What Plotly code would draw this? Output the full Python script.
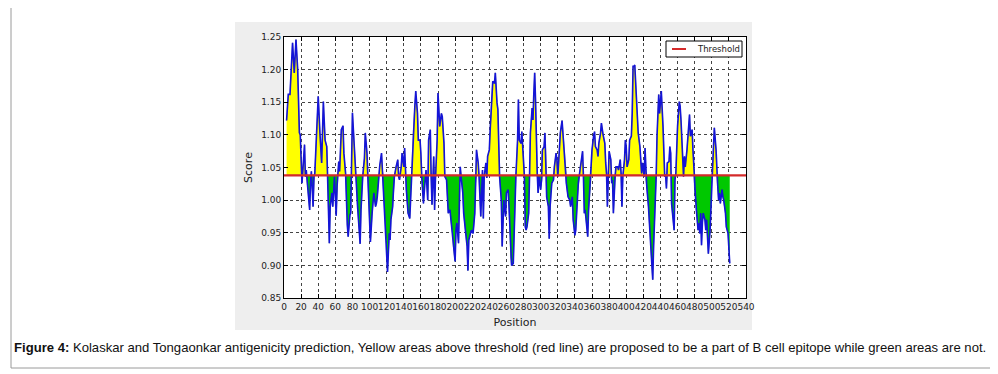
import numpy as np
import plotly.graph_objects as go

# ---- data ----
position = [3, 5, 7, 10, 12, 14, 16, 18, 19, 21, 24, 25, 26, 28, 30, 31, 32, 34, 35, 36,
            38, 40, 42, 44, 46, 48, 50, 51, 53, 54, 56, 57, 59, 61, 62, 64, 65, 67, 69, 70,
            72, 74, 75, 77, 78, 80, 81, 82, 84, 86, 89, 90, 92, 94, 95, 97, 98, 99, 101, 103,
            105, 107, 108, 109, 111, 112, 114, 115, 116, 118, 120, 121, 123, 124, 125, 127, 128, 129, 131, 133,
            134, 135, 137, 138, 140, 141, 143, 145, 147, 149, 151, 153, 154, 156, 157, 159, 160, 161, 163, 164,
            165, 166, 168, 169, 171, 172, 173, 175, 176, 177, 179, 180, 182, 184, 185, 187, 188, 190, 192, 194,
            195, 197, 198, 200, 201, 202, 204, 205, 206, 207, 209, 210, 212, 214, 215, 216, 218, 219, 221, 223,
            224, 225, 227, 228, 230, 231, 232, 233, 234, 236, 237, 238, 240, 241, 243, 244, 246, 247, 249, 250,
            251, 252, 254, 255, 257, 259, 260, 262, 263, 265, 266, 268, 269, 270, 271, 273, 274, 275, 277, 278,
            280, 281, 282, 283, 284, 286, 287, 288, 290, 291, 292, 293, 294, 295, 296, 297, 298, 300, 301, 302,
            304, 305, 306, 307, 309, 310, 311, 312, 313, 315, 316, 318, 319, 320, 321, 322, 323, 325, 326, 328,
            329, 330, 332, 334, 335, 337, 338, 340, 341, 343, 344, 346, 348, 349, 350, 351, 352, 354, 355, 356,
            358, 359, 360, 362, 363, 364, 366, 367, 368, 370, 371, 373, 375, 376, 377, 378, 379, 380, 382, 383,
            384, 385, 387, 388, 390, 391, 393, 394, 395, 396, 398, 399, 400, 401, 403, 404, 406, 407, 408, 409,
            410, 411, 412, 413, 414, 416, 417, 418, 419, 421, 422, 423, 424, 426, 427, 429, 430, 431, 432, 434,
            435, 436, 437, 438, 439, 440, 441, 443, 444, 445, 446, 447, 448, 450, 451, 452, 453, 454, 456, 457,
            458, 459, 460, 462, 463, 464, 466, 467, 468, 469, 471, 472, 473, 474, 475, 477, 478, 479, 480, 481,
            482, 484, 485, 486, 487, 488, 489, 490, 492, 493, 494, 495, 496, 498, 499, 500, 501, 502, 503, 505,
            506, 507, 508, 509, 510, 512, 513, 514, 516, 517, 519, 520, 521]

score = [1.122, 1.162, 1.162, 1.241, 1.195, 1.246, 1.200, 1.103, 1.100, 1.026, 1.085, 1.036, 1.046, 1.011, 0.985, 1.026, 1.044, 0.990, 1.036, 1.041,
         1.098, 1.159, 1.103, 1.057, 1.151, 1.092, 1.082, 1.036, 0.934, 0.990, 1.011, 0.990, 1.036, 0.976, 1.021, 1.059, 1.044, 1.108, 1.114, 1.072,
         1.041, 0.962, 0.944, 0.977, 0.980, 1.134, 1.108, 1.103, 1.041, 0.990, 0.933, 0.985, 1.036, 1.064, 1.103, 1.072, 1.036, 1.000, 0.936, 0.980,
         1.011, 0.990, 0.995, 1.005, 1.041, 1.054, 1.072, 1.046, 1.021, 0.980, 0.929, 0.890, 0.949, 0.939, 0.970, 0.990, 1.016, 1.036, 1.051, 1.062,
         1.036, 1.031, 1.051, 1.072, 1.051, 1.080, 1.016, 0.980, 0.972, 1.036, 1.103, 1.146, 1.167, 1.133, 1.092, 1.092, 1.072, 1.036, 0.995, 1.021,
         1.031, 1.046, 1.000, 1.092, 1.108, 1.036, 0.993, 1.067, 0.985, 1.031, 1.092, 1.164, 1.113, 1.133, 1.128, 1.087, 1.036, 1.031, 0.980, 0.985,
         0.970, 0.949, 0.929, 0.906, 0.954, 0.965, 0.934, 1.036, 1.051, 1.036, 1.011, 0.980, 0.959, 0.929, 0.892, 0.939, 0.949, 0.954, 0.949, 0.980,
         1.026, 1.077, 1.057, 1.036, 0.975, 1.016, 1.046, 0.972, 1.036, 1.057, 1.034, 1.067, 1.077, 1.108, 1.154, 1.182, 1.179, 1.195, 1.149, 1.139,
         1.087, 1.036, 1.000, 0.929, 1.000, 0.975, 1.011, 1.016, 0.990, 0.913, 0.900, 0.903, 0.949, 0.970, 1.036, 1.092, 1.154, 1.092, 1.087, 1.105,
         1.057, 1.036, 0.959, 0.954, 0.959, 0.980, 1.036, 1.103, 1.141, 1.123, 1.164, 1.195, 1.154, 1.082, 1.041, 1.011, 1.036, 1.016, 1.031, 1.077,
         1.082, 1.103, 1.067, 1.005, 0.990, 0.941, 0.990, 1.011, 1.026, 1.031, 1.051, 1.072, 1.062, 1.036, 1.057, 1.087, 1.103, 1.122, 1.103, 1.077,
         1.046, 1.026, 1.005, 1.000, 0.990, 1.005, 0.970, 0.946, 0.954, 1.005, 1.026, 1.046, 1.072, 1.075, 1.036, 0.980, 0.985, 0.959, 0.944, 0.985,
         1.031, 1.036, 1.077, 1.100, 1.105, 1.082, 1.077, 1.067, 1.087, 1.103, 1.118, 1.100, 1.087, 1.057, 1.041, 0.990, 1.036, 1.075, 1.062, 1.026,
         1.031, 0.980, 1.036, 1.051, 1.051, 1.046, 1.062, 1.041, 0.990, 1.036, 1.062, 1.092, 1.082, 1.051, 1.062, 1.092, 1.098, 1.133, 1.205, 1.205,
         1.207, 1.179, 1.149, 1.113, 1.103, 1.082, 1.062, 1.041, 1.057, 1.036, 1.080, 1.031, 1.021, 0.990, 0.970, 0.929, 0.898, 0.878, 0.929, 0.985,
         1.036, 1.098, 1.139, 1.162, 1.133, 1.154, 1.167, 1.113, 1.062, 1.036, 1.039, 1.018, 1.057, 1.059, 1.082, 1.072, 0.995, 0.980, 0.954, 1.031,
         1.041, 1.077, 1.113, 1.151, 1.144, 1.123, 1.077, 1.036, 1.067, 1.051, 1.077, 1.100, 1.113, 1.131, 1.098, 1.108, 1.077, 1.046, 1.011, 1.005,
         0.985, 0.954, 0.965, 0.949, 0.980, 0.931, 0.965, 0.980, 0.970, 0.954, 0.970, 0.934, 0.918, 0.954, 0.995, 1.036, 1.051, 1.082, 1.111, 1.077,
         1.036, 1.021, 1.000, 1.011, 0.995, 1.016, 1.005, 1.000, 0.980, 0.959, 0.949, 0.929, 0.903]

threshold = 1.038
x_ticks = list(range(0, 541, 20))
y_ticks = [0.85, 0.90, 0.95, 1.00, 1.05, 1.10, 1.15, 1.20, 1.25]
legend_label = "Threshold"
caption_bold = "Figure 4:"
caption_text = (" Kolaskar and Tongaonkar antigenicity prediction, Yellow areas above threshold (red line) "
                "are proposed to be a part of B cell epitope while green areas are not.")

# ---- split the curve at threshold crossings for the two fills ----
x = np.array(position, dtype=float)
y = np.array(score, dtype=float)
xs, ys = [x[0]], [y[0]]
for i in range(len(x) - 1):
    a, b = y[i] - threshold, y[i + 1] - threshold
    if a * b < 0:
        f = a / (a - b)
        xs.append(x[i] + f * (x[i + 1] - x[i]))
        ys.append(threshold)
    xs.append(x[i + 1])
    ys.append(y[i + 1])
xs = np.array(xs)
ys = np.array(ys)
base = np.full_like(xs, threshold)
upper = np.maximum(ys, threshold)
lower = np.minimum(ys, threshold)

FONT = "DejaVu Sans"
RED = "#d42a2a"
fig = go.Figure()
fig.add_trace(go.Scatter(x=xs, y=base, mode="lines", line=dict(width=0), showlegend=False, hoverinfo="skip"))
fig.add_trace(go.Scatter(x=xs, y=upper, mode="lines", fill="tonexty", fillcolor="#ffff00",
                         line=dict(width=0.6, color="#7a7a30"), showlegend=False, hoverinfo="skip"))
fig.add_trace(go.Scatter(x=xs, y=base, mode="lines", line=dict(width=0), showlegend=False, hoverinfo="skip"))
fig.add_trace(go.Scatter(x=xs, y=lower, mode="lines", fill="tonexty", fillcolor="#00c800",
                         line=dict(width=0.6, color="#2a6a2a"), showlegend=False, hoverinfo="skip"))
fig.add_trace(go.Scatter(x=x, y=y, mode="lines", line=dict(color="#1414d8", width=1.6), showlegend=False))
fig.add_trace(go.Scatter(x=[0, 540], y=[threshold, threshold], mode="lines",
                         line=dict(color=RED, width=2.2), name=legend_label, showlegend=False))

# page body has an 8px margin, so the figure is laid out 8px smaller/shifted
OFF = 8
W, H = 998 - OFF, 374 - OFF
# plot area in reference-picture pixels
L, R, T, B = 284, 746, 37, 298


def px_x(p):
    return (p - L) / (R - L)


def px_y(p):
    return (B - p) / (B - T)


shapes = [
    # gray figure panel
    dict(type="rect", xref="paper", yref="paper", layer="below",
         x0=px_x(235), x1=px_x(752), y0=px_y(330), y1=px_y(22),
         fillcolor="#eeeeee", line=dict(width=0)),
    dict(type="rect", xref="paper", yref="paper", layer="below",
         x0=0, x1=1, y0=0, y1=1, fillcolor="white", line=dict(width=0)),
    # outer border
    dict(type="rect", xref="paper", yref="paper", layer="below",
         x0=px_x(11), x1=px_x(991), y0=px_y(368), y1=px_y(4),
         fillcolor="rgba(0,0,0,0)", line=dict(width=1, color="#9a9a9a")),
    # legend box and sample line
    dict(type="rect", xref="paper", yref="paper", layer="above",
         x0=px_x(666), x1=px_x(742), y0=px_y(57), y1=px_y(41),
         fillcolor="white", line=dict(width=1, color="black")),
    dict(type="line", xref="paper", yref="paper", layer="above",
         x0=px_x(672), x1=px_x(686), y0=px_y(49), y1=px_y(49),
         line=dict(width=2, color=RED)),
]

axis_common = dict(showline=True, linecolor="black", linewidth=1, mirror="ticks",
                   ticks="inside", ticklen=4, tickcolor="black",
                   showgrid=True, gridcolor="#444444", griddash="dot", gridwidth=1,
                   zeroline=False, tickfont=dict(family=FONT, size=9, color="#222222"))

fig.update_layout(
    width=W, height=H,
    margin=dict(l=L - OFF, r=W - (R - OFF), t=T - OFF, b=H - (B - OFF)),
    paper_bgcolor="white", plot_bgcolor="white",
    showlegend=False,
    xaxis=dict(range=[0, 540], tickvals=x_ticks, ticktext=[str(v) for v in x_ticks], tickangle=0,
               title=dict(text="Position", font=dict(family=FONT, size=11, color="#222222"), standoff=7),
               **axis_common),
    yaxis=dict(range=[0.85, 1.25], tickvals=y_ticks, ticktext=["%.2f" % v for v in y_ticks],
               title=dict(text="Score", font=dict(family=FONT, size=11, color="#222222"), standoff=6),
               **axis_common),
    shapes=shapes,
    annotations=[
        dict(xref="paper", yref="paper", x=px_x(695), y=px_y(49), xanchor="left", yanchor="middle",
             showarrow=False, text=legend_label,
             font=dict(family=FONT, size=8.5, color="#222222")),
        dict(xref="paper", yref="paper", x=px_x(499.5), y=px_y(347),
             xanchor="center", yanchor="middle", showarrow=False,
             text="<b>" + caption_bold + "</b>" + caption_text,
             font=dict(family="Liberation Sans, Arial", size=13.1, color="#111111")),
    ],
)

fig.write_html("out.html")
